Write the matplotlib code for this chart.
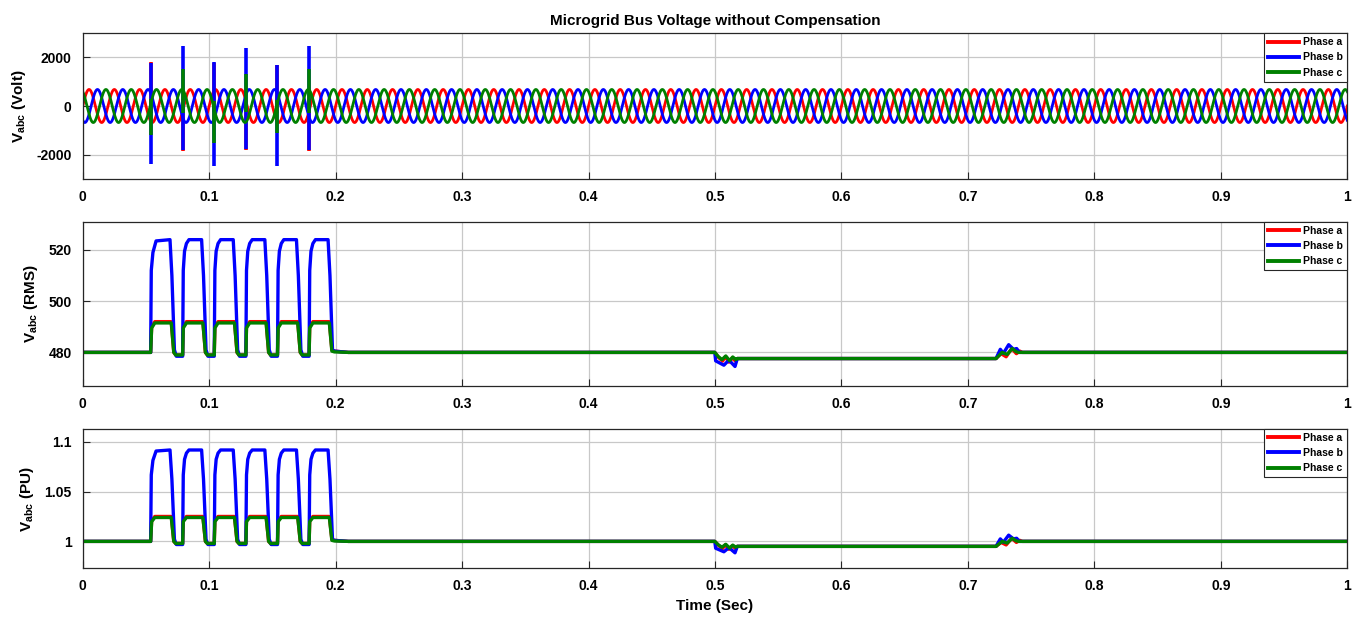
import numpy as np
import matplotlib.pyplot as plt

plt.rcParams['font.family'] = ['Liberation Sans', 'DejaVu Sans']
plt.rcParams['font.weight'] = 'bold'
plt.rcParams['axes.unicode_minus'] = False
plt.rcParams['mathtext.fontset'] = 'custom'
plt.rcParams['mathtext.rm'] = 'Liberation Sans:bold'
plt.rcParams['mathtext.bf'] = 'Liberation Sans:bold'
plt.rcParams['mathtext.it'] = 'Liberation Sans:bold'

phases = ['Phase a', 'Phase b', 'Phase c']
colors = ['#ff0000', '#0000ff', '#008000']

# instantaneous bus voltage
v_peak = 679.0          # V
f_grid = 50.0           # Hz
phase_shift = [0.0, -120.0, 120.0]   # deg

# switching transients (one spike per pulse start)
spike_t = [0.054, 0.079, 0.104, 0.129, 0.154, 0.179]
spike_hi = [[1800, 300, 1750, 250, 1700, 300],
            [1750, 2450, 1800, 2400, 1700, 2450],
            [300, 1500, 200, 1300, 250, 1500]]
spike_lo = [[-300, -1850, -250, -1800, -300, -1850],
            [-2400, -1800, -2450, -1750, -2450, -1800],
            [-1200, -300, -1500, -250, -1100, -300]]

# RMS voltage traces (time in s, value in V)
t_a = [0, 0.0537, 0.0545, 0.057, 0.070, 0.072, 0.0735, 0.079, 0.0795, 0.082, 0.095, 0.097, 0.0985,
       0.104, 0.1045, 0.107, 0.120, 0.122, 0.1235, 0.129, 0.1295, 0.132, 0.145, 0.147, 0.1485,
       0.154, 0.1545, 0.157, 0.170, 0.172, 0.1735, 0.179, 0.1795, 0.182, 0.195, 0.197, 0.199, 0.21,
       0.4998, 0.503, 0.506, 0.508, 0.511, 0.5135, 0.5165, 0.5175,
       0.7222, 0.7262, 0.7302, 0.7346, 0.7383, 0.741, 0.743, 1.0]
v_a = [480, 480, 490, 492, 492, 480, 479, 479, 490, 492, 492, 480, 479,
       479, 490, 492, 492, 480, 479, 479, 490, 492, 492, 480, 479,
       479, 490, 492, 492, 480, 479, 479, 490, 492, 492, 481, 480.5, 480,
       480, 477.9, 476.6, 478.3, 476.2, 477.8, 476.5, 477.6,
       477.6, 479.5, 478.3, 481.5, 479.5, 480.5, 480, 480]

t_b = [0, 0.0537, 0.0542, 0.0555, 0.058, 0.069, 0.0705, 0.0725, 0.074, 0.079, 0.0795, 0.0805, 0.082, 0.084,
       0.094, 0.0955, 0.0975, 0.099, 0.104, 0.1045, 0.1055, 0.107, 0.109,
       0.119, 0.1205, 0.1225, 0.124, 0.129, 0.1295, 0.1305, 0.132, 0.134,
       0.144, 0.1455, 0.1475, 0.149, 0.154, 0.1545, 0.1555, 0.157, 0.159,
       0.169, 0.1705, 0.1725, 0.174, 0.179, 0.1795, 0.1805, 0.182, 0.184,
       0.194, 0.1955, 0.1975, 0.199, 0.21,
       0.4998, 0.5005, 0.507, 0.511, 0.5158, 0.5176,
       0.7222, 0.7256, 0.728, 0.7322, 0.736, 0.7385, 0.7407, 1.0]
v_b = [480, 480, 512, 519, 523.5, 524, 510, 481, 478.5, 478.5, 512, 519.5, 522.5, 524,
       524, 510, 481, 478.5, 478.5, 512, 519.5, 522.5, 524,
       524, 510, 481, 478.5, 478.5, 512, 519.5, 522.5, 524,
       524, 510, 481, 478.5, 478.5, 512, 519.5, 522.5, 524,
       524, 510, 481, 478.5, 478.5, 512, 519.5, 522.5, 524,
       524, 510, 481, 480.5, 480,
       480, 476.7, 475, 477, 474.5, 477.6,
       477.6, 481.2, 479.6, 483, 481.2, 481.5, 480, 480]

t_c = [0, 0.0537, 0.0545, 0.057, 0.070, 0.072, 0.0735, 0.079, 0.0795, 0.082, 0.095, 0.097, 0.0985,
       0.104, 0.1045, 0.107, 0.120, 0.122, 0.1235, 0.129, 0.1295, 0.132, 0.145, 0.147, 0.1485,
       0.154, 0.1545, 0.157, 0.170, 0.172, 0.1735, 0.179, 0.1795, 0.182, 0.195, 0.197, 0.199, 0.21,
       0.4998, 0.5025, 0.5055, 0.5085, 0.5115, 0.514, 0.5165, 0.5175,
       0.7222, 0.727, 0.731, 0.735, 0.738, 0.740, 1.0]
v_c = [480, 480, 489.5, 491.5, 491.5, 480, 479, 479, 489.5, 491.5, 491.5, 480, 479,
       479, 489.5, 491.5, 491.5, 480, 479, 479, 489.5, 491.5, 491.5, 480, 479,
       479, 489.5, 491.5, 491.5, 480, 479, 479, 489.5, 491.5, 491.5, 480.5, 480.2, 480,
       480, 478.4, 477.2, 478.6, 476.8, 478.2, 477.2, 477.6,
       477.6, 480, 479.2, 481.5, 480.3, 480, 480]

v_base = 480.0
rms_t = [t_a, t_b, t_c]
rms_v = [v_a, v_b, v_c]

fig = plt.figure(figsize=(13.63, 6.19), dpi=100)
ax1 = fig.add_axes([0.0607, 0.7108, 0.9278, 0.2359])
ax2 = fig.add_axes([0.0607, 0.3769, 0.9278, 0.2649])
ax3 = fig.add_axes([0.0607, 0.0819, 0.9278, 0.2255])
axes = [ax1, ax2, ax3]

t = np.linspace(0, 1, 40001)
for k in range(3):
    v = v_peak * np.sin(2 * np.pi * f_grid * t + np.deg2rad(phase_shift[k]))
    ax1.plot(t, v, color=colors[k], lw=2.0, label=phases[k])
    ax1.vlines(spike_t, spike_lo[k], spike_hi[k], color=colors[k], lw=2.6)

for k in range(3):
    ax2.plot(rms_t[k], rms_v[k], color=colors[k], lw=2.4, label=phases[k])
    ax3.plot(rms_t[k], np.array(rms_v[k]) / v_base, color=colors[k], lw=2.4, label=phases[k])

ax1.set_ylim(-3000, 3000)
ax1.set_yticks([-2000, 0, 2000])
ax2.set_ylim(467, 531)
ax2.set_yticks([480, 500, 520])
ax3.set_ylim(0.973, 1.113)
ax3.set_yticks([1, 1.05, 1.1])
ax3.set_yticklabels(['1', '1.05', '1.1'])

ylabels = [r'$\mathregular{V_{abc}}$ (Volt)', r'$\mathregular{V_{abc}}$ (RMS)', r'$\mathregular{V_{abc}}$ (PU)']
xt = np.round(np.arange(0, 1.01, 0.1), 1)
for ax, yl in zip(axes, ylabels):
    ax.set_xlim(0, 1)
    ax.set_xticks(xt)
    ax.set_xticklabels(['0'] + [f'{x:g}' for x in xt[1:-1]] + ['1'])
    ax.grid(True, color='#c8c8c8', lw=0.9)
    ax.set_axisbelow(True)
    ax.tick_params(direction='in', length=5, labelsize=10, color='#262626', pad=8)
    for lab in ax.get_xticklabels() + ax.get_yticklabels():
        lab.set_fontweight('bold')
    for s in ax.spines.values():
        s.set_color('#262626')
        s.set_linewidth(0.9)
    ax.set_ylabel(yl, fontsize=11, fontweight='bold', labelpad=6)
    leg = ax.legend(loc='upper right', handlelength=3.0, borderpad=0.4,
                    labelspacing=0.5, handletextpad=0.4, borderaxespad=0.0, fancybox=False,
                    framealpha=1.0, edgecolor='#262626', prop={'weight': 'bold', 'size': 7.5})
    leg.get_frame().set_linewidth(0.8)
    for h in leg.get_lines():
        h.set_linewidth(2.8)

ax1.set_title('Microgrid Bus Voltage without Compensation', fontsize=11, fontweight='bold', pad=6)
ax3.set_xlabel('Time (Sec)', fontsize=11, fontweight='bold', labelpad=4)

fig.savefig('out.png', dpi=100)
